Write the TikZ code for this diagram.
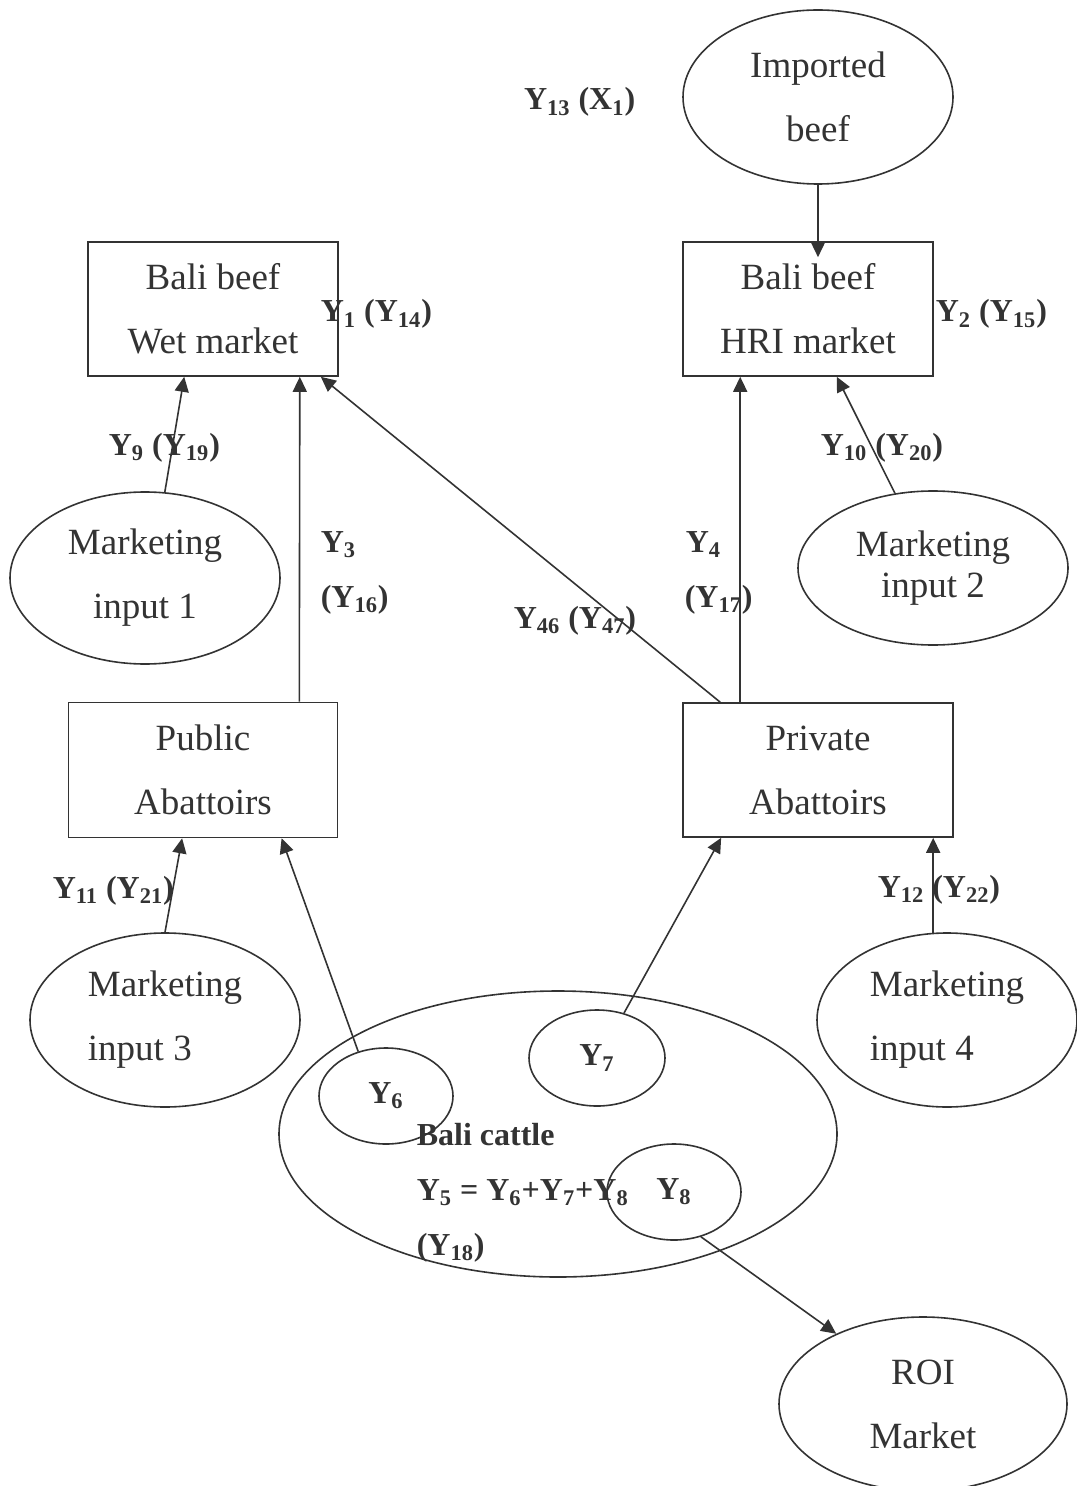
\documentclass[tikz,border=0pt]{standalone}
\usepackage{fontspec}
\setmainfont{Liberation Serif}
\usetikzlibrary{shapes.geometric,arrows.meta}
\definecolor{ink}{HTML}{333333}
\newcommand{\yv}[1]{Y\textsubscript{#1}}
\tikzset{
  market/.style={draw,rectangle,inner sep=0pt,align=center,font=\fontsize{18.5}{32}\selectfont},
  bubble/.style={draw,ellipse,inner sep=0pt,align=center,font=\fontsize{18.5}{32}\selectfont},
  share/.style={draw,ellipse,inner sep=0pt,minimum width=67pt,minimum height=48pt,font=\fontsize{16}{20}\selectfont\bfseries},
  flow/.style={anchor=base west,inner sep=0pt,font=\fontsize{16}{20}\selectfont\bfseries}
}
\begin{document}
\begin{tikzpicture}[x=0.5pt,y=-0.5pt,ink,line width=0.8pt,>={Triangle[length=7.5pt,width=7pt]}]
\useasboundingbox (0,0) rectangle (1076,1486);
\node[bubble,minimum width=135pt,minimum height=87pt] (imp) at (818,97) {Imported\\beef};
\node[market,minimum width=125pt,minimum height=67pt] (wet) at (213,309) {Bali beef\\Wet market};
\node[market,minimum width=125pt,minimum height=67pt] (hri) at (808,309) {Bali beef\\HRI market};
\node[bubble,minimum width=135pt,minimum height=86pt] (mi1) at (145,578) {Marketing\\input 1};
\node[bubble,minimum width=135pt,minimum height=77pt,font=\fontsize{18.5}{20.5}\selectfont] (mi2) at (933,568) {Marketing\\input 2};
\node[market,minimum width=134.5pt,minimum height=67.5pt] (pub) at (203,770) {Public\\Abattoirs};
\node[market,minimum width=135pt,minimum height=67pt] (priv) at (818,770) {Private\\Abattoirs};
\node[bubble,align=left,minimum width=135pt,minimum height=87pt] (mi3) at (165,1020) {Marketing\\input 3};
\node[bubble,align=left,minimum width=130pt,minimum height=87pt] (mi4) at (947,1020) {Marketing\\input 4};
\node[draw,ellipse,minimum width=279pt,minimum height=143pt] (cattle) at (558,1134) {};
\node[share] (y6) at (386,1096) {\yv{6}};
\node[share,minimum width=68pt] (y7) at (597,1058) {\yv{7}};
\node[share] (y8) at (674,1192) {\yv{8}};
\node[bubble,minimum width=144pt,minimum height=87pt] (roi) at (923,1404) {ROI\\Market};

\node[flow,anchor=base east] (y13lab) at (636,110) {\yv{13} (X\textsubscript{1})};
\node[flow] (y1lab) at (320,322) {\yv{1} (\yv{14})};
\node[flow] (y2lab) at (935,322) {\yv{2} (\yv{15})};
\node[flow] (y9lab) at (108,455) {\yv{9} (\yv{19})};
\node[flow] (y10lab) at (820,455) {\yv{10} (\yv{20})};
\node[flow] (y3lab) at (320,552) {\yv{3}};
\node[flow] (y16lab) at (320,607) {(\yv{16})};
\node[flow] (y4lab) at (685,552) {\yv{4}};
\node[flow] (y17lab) at (684,607) {(\yv{17})};
\node[flow] (y46lab) at (513,628) {\yv{46} (\yv{47})};
\node[flow] (y11lab) at (52,898) {\yv{11} (\yv{21})};
\node[flow] (y12lab) at (877,897) {\yv{12} (\yv{22})};
\node[flow] (cattlename) at (416,1145) {Bali cattle};
\node[flow] (cattlesum) at (416,1200) {\yv{5} = \yv{6}+\yv{7}+\yv{8}};
\node[flow] (y18lab) at (416,1255) {(\yv{18})};

\draw[->] (imp.south) -- ([yshift=-8pt]imp.south |- hri.north);
\draw[->] (mi1.77) -- (wet.247);
\draw[->] ([xshift=-19.5pt]pub.north east) -- ([xshift=-19.5pt]wet.south east);
\draw[->] ([xshift=19pt]priv.north west) -- ([xshift=-9pt]wet.south east);
\draw[->] ([xshift=29pt]priv.north west) -- ([xshift=29pt]hri.south west);
\draw[->] (mi2.117) -- (hri.293);
\draw[->] (mi3.north) -- (pub.253);
\draw[->] (y6.122) -- (pub.319);
\draw[->] (y7.59) -- (priv.215);
\draw[->] (mi4.99) -- (mi4.99 |- priv.south);
\draw[->] (y8.301) -- (roi.141);
\end{tikzpicture}
\end{document}
